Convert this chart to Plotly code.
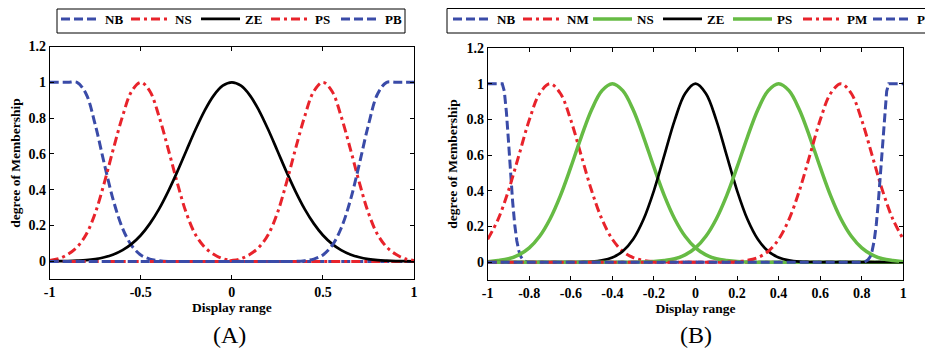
import plotly.graph_objects as go

# ---------------- data ----------------
x_a = [-1.0, -0.95, -0.9, -0.85, -0.8, -0.75, -0.7, -0.65, -0.6, -0.55, -0.5,
       -0.45, -0.4, -0.35, -0.3, -0.25, -0.2, -0.15, -0.1, -0.05, 0.0,
       0.05, 0.1, 0.15, 0.2, 0.25, 0.3, 0.35, 0.4, 0.45, 0.5,
       0.55, 0.6, 0.65, 0.7, 0.75, 0.8, 0.85, 0.9, 0.95, 1.0]

nb_a = [1, 1, 1, 1, 0.935, 0.763, 0.544, 0.339, 0.185, 0.088, 0.036,
        0.013, 0.004, 0, 0, 0, 0, 0, 0, 0, 0,
        0, 0, 0, 0, 0, 0, 0, 0, 0, 0,
        0, 0, 0, 0, 0, 0, 0, 0, 0, 0]
ns_a = [0.005, 0.015, 0.04, 0.08, 0.15, 0.27, 0.44, 0.63, 0.81, 0.95, 1,
        0.95, 0.81, 0.63, 0.44, 0.27, 0.15, 0.08, 0.04, 0.015, 0.005,
        0, 0, 0, 0, 0, 0, 0, 0, 0, 0,
        0, 0, 0, 0, 0, 0, 0, 0, 0, 0]
ze_a = [0, 0.001, 0.002, 0.004, 0.007, 0.013, 0.023, 0.039, 0.063, 0.098, 0.146,
        0.211, 0.292, 0.39, 0.5, 0.618, 0.735, 0.841, 0.926, 0.981, 1,
        0.981, 0.926, 0.841, 0.735, 0.618, 0.5, 0.39, 0.292, 0.211, 0.146,
        0.098, 0.063, 0.039, 0.023, 0.013, 0.007, 0.004, 0.002, 0.001, 0]
ps_a = [0, 0, 0, 0, 0, 0, 0, 0, 0, 0,
        0, 0, 0, 0, 0, 0, 0, 0, 0, 0,
        0.005, 0.015, 0.04, 0.08, 0.15, 0.27, 0.44, 0.63, 0.81, 0.95, 1,
        0.95, 0.81, 0.63, 0.44, 0.27, 0.15, 0.08, 0.04, 0.015, 0.005]
pb_a = [0, 0, 0, 0, 0, 0, 0, 0, 0, 0,
        0, 0, 0, 0, 0, 0, 0, 0, 0, 0,
        0, 0, 0, 0, 0, 0, 0, 0, 0.004, 0.013,
        0.036, 0.088, 0.185, 0.339, 0.544, 0.763, 0.935, 1, 1, 1, 1]

x_b = x_a
nm_b = [0.128, 0.24, 0.401, 0.598, 0.796, 0.945, 1, 0.945, 0.796, 0.598, 0.401,
        0.24, 0.128, 0.061, 0.026, 0.01, 0.003, 0.001, 0, 0, 0,
        0, 0, 0, 0, 0, 0, 0, 0, 0, 0,
        0, 0, 0, 0, 0, 0, 0, 0, 0, 0]
ns_b = [0.003, 0.009, 0.019, 0.041, 0.08, 0.145, 0.242, 0.373, 0.532, 0.701, 0.854,
        0.961, 1, 0.961, 0.854, 0.701, 0.532, 0.373, 0.242, 0.145, 0.08,
        0.041, 0.019, 0.009, 0.003, 0.001, 0, 0, 0, 0, 0,
        0, 0, 0, 0, 0, 0, 0, 0, 0, 0]
ze_b = [0, 0, 0, 0, 0, 0, 0, 0, 0, 0.001, 0.003,
        0.01, 0.026, 0.061, 0.128, 0.24, 0.401, 0.598, 0.796, 0.945, 1,
        0.945, 0.796, 0.598, 0.401, 0.24, 0.128, 0.061, 0.026, 0.01, 0.003,
        0.001, 0, 0, 0, 0, 0, 0, 0, 0, 0]
ps_b = [0, 0, 0, 0, 0, 0, 0, 0, 0, 0,
        0, 0, 0, 0, 0, 0.001, 0.003, 0.009, 0.019, 0.041,
        0.08, 0.145, 0.242, 0.373, 0.532, 0.701, 0.854, 0.961, 1, 0.961,
        0.854, 0.701, 0.532, 0.373, 0.242, 0.145, 0.08, 0.041, 0.019, 0.009, 0.003]
pm_b = [0, 0, 0, 0, 0, 0, 0, 0, 0, 0,
        0, 0, 0, 0, 0, 0, 0, 0, 0, 0, 0,
        0, 0, 0.001, 0.003, 0.01, 0.026, 0.061, 0.128, 0.24, 0.401,
        0.598, 0.796, 0.945, 1, 0.945, 0.796, 0.598, 0.401, 0.24, 0.128]
x_nb_b = [-1.0, -0.95, -0.93, -0.92, -0.91, -0.9, -0.89, -0.88, -0.87, -0.86,
          -0.85, -0.84, -0.83, -0.82, -0.81, 1.0]
nb_b = [1, 1, 1, 0.958, 0.841, 0.678, 0.5, 0.339, 0.211, 0.12,
        0.063, 0.03, 0.013, 0.005, 0, 0]
x_pb_b = [-1.0, 0.81, 0.82, 0.83, 0.84, 0.85, 0.86, 0.87, 0.88, 0.89,
          0.9, 0.91, 0.92, 0.93, 0.95, 1.0]
pb_b = [0, 0, 0.005, 0.013, 0.03, 0.063, 0.12, 0.211, 0.339, 0.5,
        0.678, 0.841, 0.958, 1, 1, 1]

ticks_a = [-1, -0.5, 0, 0.5, 1]
ticks_b = [-1, -0.8, -0.6, -0.4, -0.2, 0, 0.2, 0.4, 0.6, 0.8, 1]
ticks_y = [0, 0.2, 0.4, 0.6, 0.8, 1, 1.2]

# ---------------- style ----------------
# the page body has an 8px margin, so the figure is 8px smaller than the window
W, H = 925, 341
BLUE = "#3a4ba8"
RED = "#e8232b"
GREEN = "#66bb44"
BLACK = "#000000"
FONT = "Liberation Serif, Times New Roman, serif"
DASH_B = "9px,4px"
DASH_R = "9px,4px,3px,4px"


def px_x(p):
    return p / W


def px_y(p):
    return 1 - p / H


fig = go.Figure()


def add(x, y, name, color, dash, width, xa, ya, legend, shape="spline"):
    fig.add_trace(go.Scatter(
        x=x, y=y, name=name, mode="lines",
        line=dict(color=color, dash=dash, width=width, shape=shape, smoothing=1.0),
        xaxis=xa, yaxis=ya, legend=legend, hoverinfo="x+y+name"))


add(x_a, nb_a, "NB", BLUE, DASH_B, 3, "x", "y", "legend")
add(x_a, ns_a, "NS", RED, DASH_R, 3, "x", "y", "legend")
add(x_a, ze_a, "ZE", BLACK, "solid", 2.7, "x", "y", "legend")
add(x_a, ps_a, "PS", RED, DASH_R, 3, "x", "y", "legend")
add(x_a, pb_a, "PB", BLUE, DASH_B, 3, "x", "y", "legend")

add(x_nb_b, nb_b, "NB", BLUE, DASH_B, 3, "x2", "y2", "legend2", shape="linear")
add(x_b, nm_b, "NM", RED, DASH_R, 3, "x2", "y2", "legend2")
add(x_b, ns_b, "NS", GREEN, "solid", 3.5, "x2", "y2", "legend2")
add(x_b, ze_b, "ZE", BLACK, "solid", 2.7, "x2", "y2", "legend2")
add(x_b, ps_b, "PS", GREEN, "solid", 3.5, "x2", "y2", "legend2")
add(x_b, pm_b, "PM", RED, DASH_R, 3, "x2", "y2", "legend2")
add(x_pb_b, pb_b, "PB", BLUE, DASH_B, 3, "x2", "y2", "legend2", shape="linear")

tickfont = dict(family=FONT, size=14, color="black", weight="bold")
titlefont = dict(family=FONT, size=13.5, color="black", weight="bold")


def xaxis(domain, ticks, anchor):
    return dict(domain=domain, range=[-1, 1], tickvals=ticks,
                ticktext=["%g" % t for t in ticks], anchor=anchor,
                ticks="inside", ticklen=4, tickcolor="black", mirror="ticks",
                showline=True, linecolor="black", linewidth=1,
                showgrid=False, zeroline=False, tickfont=tickfont,
                title=dict(text="Display range", font=titlefont, standoff=1))


def yaxis(domain, anchor):
    return dict(domain=domain, range=[-0.1, 1.2], tickvals=ticks_y,
                ticktext=["%g" % t for t in ticks_y], anchor=anchor,
                ticks="inside", ticklen=4, tickcolor="black", mirror="ticks",
                showline=True, linecolor="black", linewidth=1,
                showgrid=False, zeroline=False, tickfont=tickfont,
                title=dict(text="degree of Membership", font=titlefont, standoff=5))


legend_common = dict(orientation="h", xanchor="left", yanchor="top",
                     bgcolor="rgba(0,0,0,0)", borderwidth=0,
                     font=dict(family=FONT, size=13, color="black", weight="bold"),
                     itemwidth=39, entrywidth=16, entrywidthmode="pixels",
                     traceorder="normal", itemclick=False, itemdoubleclick=False)

fig.update_layout(
    width=W, height=H,
    margin=dict(l=0, r=0, t=0, b=0, autoexpand=False),
    paper_bgcolor="white", plot_bgcolor="white",
    xaxis=xaxis([px_x(41.7), px_x(406)], ticks_a, "y"),
    yaxis=yaxis([px_y(271.3), px_y(38.5)], "x"),
    xaxis2=xaxis([px_x(479.7), px_x(895.3)], ticks_b, "y2"),
    yaxis2=yaxis([px_y(272), px_y(40)], "x2"),
    legend=dict(x=px_x(48), y=px_y(-4), **legend_common),
    legend2=dict(x=px_x(440), y=px_y(-4), **legend_common),
    shapes=[
        dict(type="rect", xref="paper", yref="paper",
             x0=px_x(49), x1=px_x(397), y0=px_y(25), y1=px_y(1),
             line=dict(color="black", width=1), fillcolor="white", layer="above"),
        dict(type="rect", xref="paper", yref="paper",
             x0=px_x(439), x1=px_x(945), y0=px_y(25), y1=px_y(0.5),
             line=dict(color="black", width=1), fillcolor="white", layer="above"),
    ],
    annotations=[
        dict(text="(A)", x=px_x(221.5), y=px_y(327), xref="paper", yref="paper",
             showarrow=False, xanchor="center", yanchor="middle",
             font=dict(family=FONT, size=24, color="black")),
        dict(text="(B)", x=px_x(688), y=px_y(327), xref="paper", yref="paper",
             showarrow=False, xanchor="center", yanchor="middle",
             font=dict(family=FONT, size=24, color="black")),
    ],
    showlegend=True,
)

fig.write_html("out.html")
